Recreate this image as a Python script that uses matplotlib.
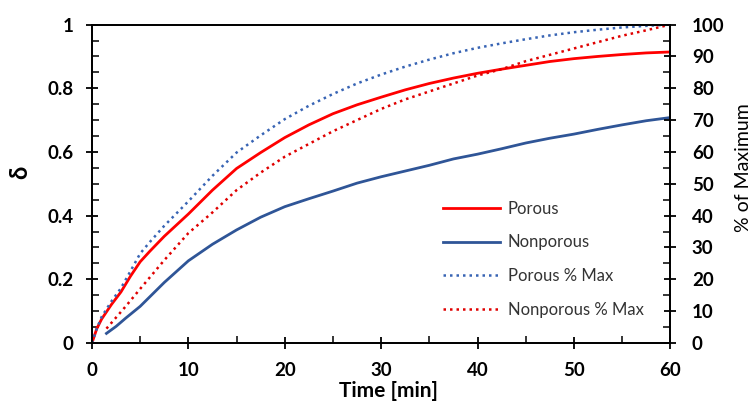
import matplotlib
matplotlib.use("Agg")
import matplotlib.pyplot as plt
from matplotlib.ticker import MultipleLocator

plt.rcParams['font.family'] = ['Lato', 'DejaVu Sans']

# Porous (delta, left axis)
t_por = [0, 0.5, 1, 2, 3, 4, 5, 6, 7.5, 10, 12.5, 15, 17.5, 20, 22.5, 25, 27.5, 30,
         32.5, 35, 37.5, 40, 42.5, 45, 47.5, 50, 52.5, 55, 57.5, 60]
porous = [0, 0.045, 0.075, 0.12, 0.16, 0.21, 0.255, 0.288, 0.335, 0.405, 0.48, 0.548,
          0.598, 0.645, 0.685, 0.72, 0.748, 0.772, 0.795, 0.815, 0.832, 0.847, 0.86,
          0.872, 0.884, 0.893, 0.900, 0.906, 0.911, 0.914]
# Porous % of max (right axis)
porous_pct = [0, 4.5, 8.2, 13, 17.2, 22.6, 28.1, 31.7, 36.8, 44.5, 52.5, 59.8, 65.2,
              70.3, 74.5, 78.2, 81.5, 84.3, 86.8, 89, 91, 92.7, 94.1, 95.4, 96.6, 97.6,
              98.4, 99.1, 99.6, 100]

# Nonporous
t_non = [1.5, 2.5, 3.5, 5, 7.5, 10, 12.5, 15, 17.5, 20, 22.5, 25, 27.5, 30, 32.5, 35,
         37.5, 40, 42.5, 45, 47.5, 50, 52.5, 55, 57.5, 60]
nonporous = [0.03, 0.052, 0.078, 0.115, 0.19, 0.258, 0.31, 0.355, 0.395, 0.428, 0.453,
             0.477, 0.502, 0.522, 0.54, 0.558, 0.578, 0.593, 0.61, 0.628, 0.643, 0.656,
             0.671, 0.685, 0.698, 0.708]
nonporous_pct = [4.5, 8, 11.5, 17, 26, 34.5, 41, 48, 53.5, 58.5, 62.5, 66.5, 70, 73.5,
                 76.5, 79, 81.5, 84, 86, 88.5, 90.5, 92.5, 94.5, 96.5, 98.2, 100]

fig = plt.figure(figsize=(7.54, 4.03), dpi=100)
ax = fig.add_axes([0.122, 0.149, 0.767, 0.79])
ax2 = ax.twinx()

l1, = ax.plot(t_por, porous, color='#FF0000', lw=2.0, label='Porous')
l2, = ax.plot(t_non, nonporous, color='#2F5597', lw=2.0, label='Nonporous')
l3, = ax2.plot(t_por, porous_pct, color='#3864B4', lw=1.8, ls=(0, (1, 1.6)),
               label='Porous % Max')
l4, = ax2.plot(t_non, nonporous_pct, color='#E00000', lw=1.8, ls=(0, (1, 1.6)),
               label='Nonporous % Max')

ax.set_xlim(0, 60)
ax.set_ylim(0, 1)
ax2.set_ylim(0, 100)

ax.xaxis.set_major_locator(MultipleLocator(10))
ax.xaxis.set_minor_locator(MultipleLocator(5))
ax.yaxis.set_major_locator(MultipleLocator(0.2))
ax.yaxis.set_minor_locator(MultipleLocator(0.05))
ax2.yaxis.set_major_locator(MultipleLocator(10))
ax2.yaxis.set_minor_locator(MultipleLocator(5))
ax.yaxis.set_major_formatter(plt.FuncFormatter(lambda v, p: '%g' % round(v, 2)))

for a in (ax, ax2):
    for s in a.spines.values():
        s.set_linewidth(1.3)
    a.tick_params(which='major', direction='inout', length=9, width=1.3,
                  labelsize=13.5)
    a.tick_params(which='minor', direction='in', length=5, width=1.1)
ax.tick_params(axis='x', pad=9)
ax.tick_params(axis='y', pad=9)
ax2.tick_params(axis='y', pad=11)
for lab in ax.get_xticklabels() + ax.get_yticklabels() + ax2.get_yticklabels():
    lab.set_fontweight('bold')

ax.set_xlabel('Time [min]', fontsize=15, fontweight='bold')
ax.xaxis.set_label_coords(0.512, -0.118)
ax.set_ylabel('δ', fontsize=17, fontweight='bold')
ax.yaxis.set_label_coords(-0.105, 0.536)
ax2.set_ylabel('% of Maximum', fontsize=14)
ax2.yaxis.set_label_coords(1.112, 0.55)

fig.legend(handles=[l1, l2, l3, l4], loc='upper left',
           bbox_to_anchor=(428 / 754, 1 - 186 / 403), frameon=False,
           fontsize=12, handlelength=3.4, labelspacing=1.05, handletextpad=0.5,
           labelcolor='#333333')

fig.savefig('out.png', dpi=100)
